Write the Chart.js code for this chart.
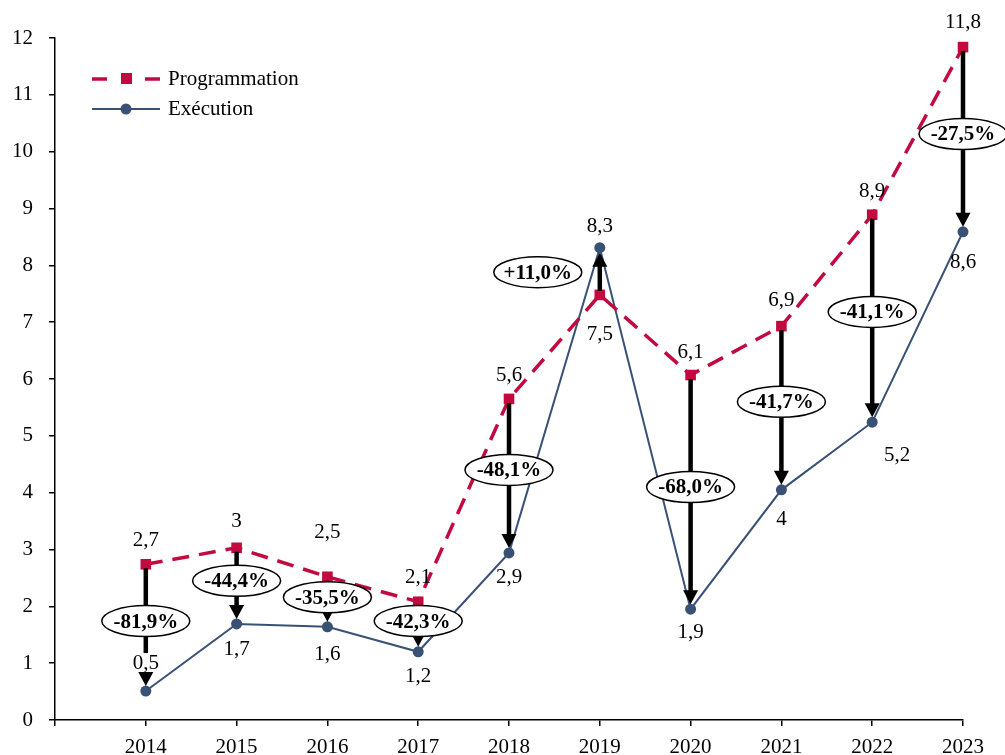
<!DOCTYPE html>
<html>
<head>
<meta charset="utf-8">
<script src="https://cdn.jsdelivr.net/npm/chart.js@4.4.0/dist/chart.umd.min.js"></script>
<style>
  body { margin: 0; background: #fff; }
  canvas { display: block; }
</style>
</head>
<body>
<canvas id="chart" width="1005" height="755"></canvas>
<script>
// data
const categories = ['2014', '2015', '2016', '2017', '2018', '2019', '2020', '2021', '2022', '2023'];
const progValues = [2.74, 3.03, 2.52, 2.08, 5.65, 7.48, 6.07, 6.93, 8.89, 11.84];
const execValues = [0.51, 1.69, 1.64, 1.20, 2.94, 8.31, 1.95, 4.05, 5.24, 8.59];
const progLabels = ['2,7', '3', '2,5', '2,1', '5,6', '7,5', '6,1', '6,9', '8,9', '11,8'];
const execLabels = ['0,5', '1,7', '1,6', '1,2', '2,9', '8,3', '1,9', '4', '5,2', '8,6'];
const gapLabels = ['-81,9%', '-44,4%', '-35,5%', '-42,3%', '-48,1%', '+11,0%', '-68,0%', '-41,7%', '-41,1%', '-27,5%'];
const yTicks = [0, 1, 2, 3, 4, 5, 6, 7, 8, 9, 10, 11, 12];

// placement of labels / badges (pixel offsets, badge y in axis units)
const progLabelDy = [-24, -26, -44, -24, -23, 40, -23, -26, -23, -25];
const execLabelOff = [[0, -28], [0, 26], [0, 28], [0, 25], [0, 25], [0, -21], [0, 23], [0, 30], [25, 33], [0, 31]];
const badgePos = [[0, 1.74], [0, 2.45], [0, 2.16], [0, 1.74], [0, 4.40], [-62, 7.88], [0, 4.10], [0, 5.60], [0, 7.18], [0, 10.31]];

const RED = '#C20A40';
const BLUE = '#3A5176';
const FONT = '"Liberation Serif", "Times New Roman", serif';

const years = categories.map(Number);

const annotations = {
  id: 'annotations',
  afterDatasetsDraw(chart) {
    const ctx = chart.ctx;
    const xs = chart.scales.x, ys = chart.scales.y;
    ctx.save();

    // arrows programmation -> execution
    years.forEach((yr, i) => {
      const x = xs.getPixelForValue(yr);
      const y0 = ys.getPixelForValue(progValues[i]);
      const y1 = ys.getPixelForValue(execValues[i]);
      const dir = y1 > y0 ? 1 : -1;
      const tip = y1 - dir * 5;
      const head = 14;
      ctx.strokeStyle = '#000';
      ctx.fillStyle = '#000';
      ctx.lineWidth = 4.5;
      ctx.beginPath();
      ctx.moveTo(x, y0 + dir * 4);
      ctx.lineTo(x, tip - dir * head + dir * 2);
      ctx.stroke();
      ctx.beginPath();
      ctx.moveTo(x, tip);
      ctx.lineTo(x - 7.5, tip - dir * head);
      ctx.lineTo(x + 7.5, tip - dir * head);
      ctx.closePath();
      ctx.fill();
    });

    // value labels
    ctx.font = '21px ' + FONT;
    ctx.textAlign = 'center';
    ctx.textBaseline = 'middle';
    years.forEach((yr, i) => {
      const x = xs.getPixelForValue(yr);
      const yp = ys.getPixelForValue(progValues[i]);
      const ye = ys.getPixelForValue(execValues[i]);
      ctx.fillStyle = '#000';
      ctx.fillText(progLabels[i], x, yp + progLabelDy[i]);
      const ex = x + execLabelOff[i][0], ey = ye + execLabelOff[i][1];
      if (i === 0) {
        const w = ctx.measureText(execLabels[i]).width;
        ctx.fillStyle = '#fff';
        ctx.fillRect(ex - w / 2 - 2, ey - 10, w + 4, 19);
        ctx.fillStyle = '#000';
      }
      ctx.fillText(execLabels[i], ex, ey);
    });

    // percentage badges
    ctx.font = 'bold 21px ' + FONT;
    years.forEach((yr, i) => {
      const cx = xs.getPixelForValue(yr) + badgePos[i][0];
      const cy = ys.getPixelForValue(badgePos[i][1]);
      ctx.beginPath();
      ctx.ellipse(cx, cy, 44, 15.5, 0, 0, Math.PI * 2);
      ctx.fillStyle = '#fff';
      ctx.fill();
      ctx.lineWidth = 1.5;
      ctx.strokeStyle = '#000';
      ctx.stroke();
      ctx.fillStyle = '#000';
      ctx.fillText(gapLabels[i], cx, cy + 1);
    });

    // legend
    ctx.strokeStyle = RED;
    ctx.lineWidth = 3.5;
    ctx.beginPath();
    ctx.moveTo(92, 79); ctx.lineTo(107, 79);
    ctx.moveTo(145, 79); ctx.lineTo(160, 79);
    ctx.stroke();
    ctx.fillStyle = RED;
    ctx.fillRect(121, 73, 11, 11);
    ctx.strokeStyle = BLUE;
    ctx.lineWidth = 2;
    ctx.beginPath();
    ctx.moveTo(92, 109); ctx.lineTo(160, 109);
    ctx.stroke();
    ctx.fillStyle = BLUE;
    ctx.beginPath();
    ctx.arc(126, 109, 5.5, 0, Math.PI * 2);
    ctx.fill();
    ctx.font = '21px ' + FONT;
    ctx.textAlign = 'left';
    ctx.fillStyle = '#000';
    ctx.fillText('Programmation', 168, 79);
    ctx.fillText('Exécution', 168, 109);

    ctx.restore();
  }
};

new Chart(document.getElementById('chart'), {
  type: 'line',
  data: {
    datasets: [{
      label: 'Programmation',
      data: years.map((yr, i) => ({ x: yr, y: progValues[i] })),
      borderColor: RED,
      backgroundColor: RED,
      borderWidth: 3.5,
      borderDash: [17, 10],
      pointStyle: 'rect',
      pointRadius: 7.5,
      pointBorderWidth: 0,
      tension: 0,
      clip: false
    }, {
      label: 'Exécution',
      data: years.map((yr, i) => ({ x: yr, y: execValues[i] })),
      borderColor: BLUE,
      backgroundColor: BLUE,
      borderWidth: 2,
      pointStyle: 'circle',
      pointRadius: 5.5,
      pointBorderWidth: 0,
      tension: 0,
      clip: false
    }]
  },
  options: {
    responsive: false,
    animation: false,
    layout: { padding: { top: 38, right: 42, left: 0, bottom: 0 } },
    plugins: { legend: { display: false }, tooltip: { enabled: false } },
    scales: {
      x: {
        type: 'linear',
        min: 2013,
        max: 2023,
        afterFit: s => { s.height = 35; },
        afterBuildTicks: s => { s.ticks = [2013].concat(years).map(v => ({ value: v })); },
        ticks: {
          callback: v => v === 2013 ? '' : String(v),
          color: '#000',
          font: { family: FONT, size: 21 },
          padding: 9,
          maxRotation: 0,
          autoSkip: false
        },
        grid: { drawOnChartArea: false, tickLength: 6, color: '#000', lineWidth: 1.5 },
        border: { display: true, color: '#000', width: 1.5 }
      },
      y: {
        min: 0,
        max: 12,
        afterFit: s => { s.width = 55; },
        afterBuildTicks: s => { s.ticks = yTicks.map(v => ({ value: v })); },
        ticks: {
          color: '#000',
          font: { family: FONT, size: 21 },
          padding: 16
        },
        grid: { drawOnChartArea: false, tickLength: 6, color: '#000', lineWidth: 1.5 },
        border: { display: true, color: '#000', width: 1.5 }
      }
    }
  },
  plugins: [annotations]
});
</script>
</body>
</html>
